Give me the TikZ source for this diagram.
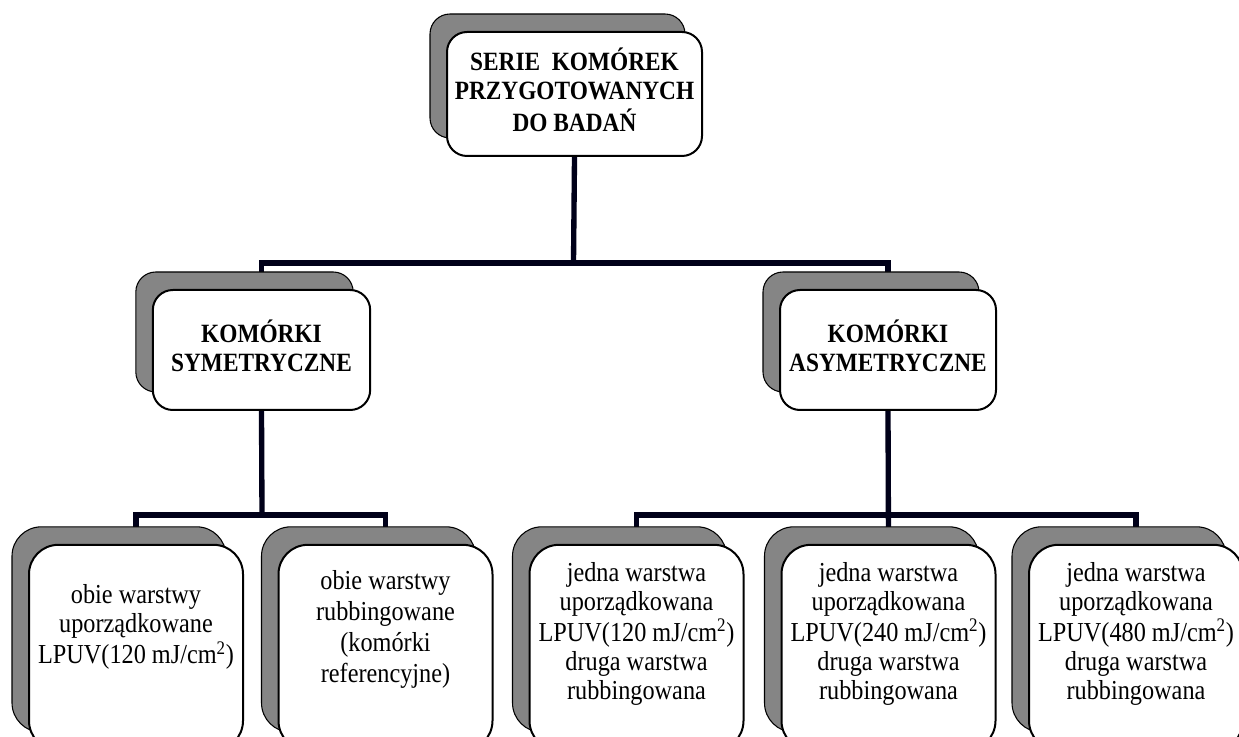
\documentclass[tikz,border=0pt]{standalone}
\usepackage{fontspec}
\usepackage{graphicx}
\setmainfont{Liberation Serif}
\usetikzlibrary{shadows,backgrounds}
\newcommand\tallstack[1]{\scalebox{1}[1.13]{\begin{tabular}{@{}c@{}}#1\end{tabular}}}
\tikzset{
  box/.style={draw=black, line width=1.5pt, fill=white, rounded corners=15pt,
    general shadow={shadow xshift=-12.75pt, shadow yshift=13.5pt, fill=black!48, draw=black, line width=0.8pt}},
  boldbox/.style={box, align=center, font=\fontsize{17.5}{19.2}\selectfont\bfseries},
  bottombox/.style={box, rounded corners=22pt, minimum width=160.5pt, minimum height=154pt},
  txt/.style={align=center, font=\fontsize{18.2}{19.2}\selectfont, inner sep=0pt},
  conn/.style={line width=4pt, draw=black!90!blue, line join=miter}
}
\begin{document}
\begin{tikzpicture}[x=0.75pt, y=-0.75pt]
\useasboundingbox (0,0) rectangle (1239,737);
\clip (0,0) rectangle (1239,737);
% top
\node[boldbox, minimum width=191.25pt, minimum height=93pt] (top) at (574.5,94)
  {\tallstack{SERIE\ \ KOMÓREK\\PRZYGOTOWANYCH\\DO BADAŃ}};
% middle
\node[boldbox, minimum width=163pt, minimum height=90pt] (midL) at (261.5,350)
  {\tallstack{KOMÓRKI\\SYMETRYCZNE}};
\node[boldbox, minimum width=162pt, minimum height=90pt] (midR) at (888,350)
  {\tallstack{KOMÓRKI\\ASYMETRYCZNE}};
% bottom boxes
\node[bottombox] (b1) at (136,647.5) {};
\node[bottombox] (b2) at (385.5,647.5) {};
\node[bottombox] (b3) at (636.5,647.5) {};
\node[bottombox] (b4) at (888.5,647.5) {};
\node[bottombox] (b5) at (1136,647.5) {};
% texts
\node[txt] (t1) at (136,628) {\tallstack{obie warstwy\\uporządkowane\\LPUV(120 mJ/cm\textsuperscript{2})}};
\node[txt, font=\fontsize{18.2}{20.5}\selectfont] (t2) at (385.5,630) {\tallstack{obie warstwy\\rubbingowane\\(komórki\\referencyjne)}};
\node[txt] (t3) at (636.5,634.5) {\tallstack{jedna warstwa\\uporządkowana\\LPUV(120 mJ/cm\textsuperscript{2})\\druga warstwa\\rubbingowana}};
\node[txt] (t4) at (888.5,634.5) {\tallstack{jedna warstwa\\uporządkowana\\LPUV(240 mJ/cm\textsuperscript{2})\\druga warstwa\\rubbingowana}};
\node[txt] (t5) at (1136,634.5) {\tallstack{jedna warstwa\\uporządkowana\\LPUV(480 mJ/cm\textsuperscript{2})\\druga warstwa\\rubbingowana}};
% connectors
\coordinate (j1) at (573.5,263);
\coordinate (j2) at (262,515);
\coordinate (j3) at (888,515);
\begin{scope}[on background layer]
\draw[conn] (top.south) -- (j1);
\draw[conn] (midL.north) |- (j1) -| (midR.north);
\draw[conn] (midL.south) -- (j2);
\draw[conn] (b1.north) |- (j2) -| (b2.north);
\draw[conn] (midR.south) -- (b4.north);
\draw[conn] (b3.north) |- (j3) -| (b5.north);
\end{scope}
\end{tikzpicture}
\end{document}
